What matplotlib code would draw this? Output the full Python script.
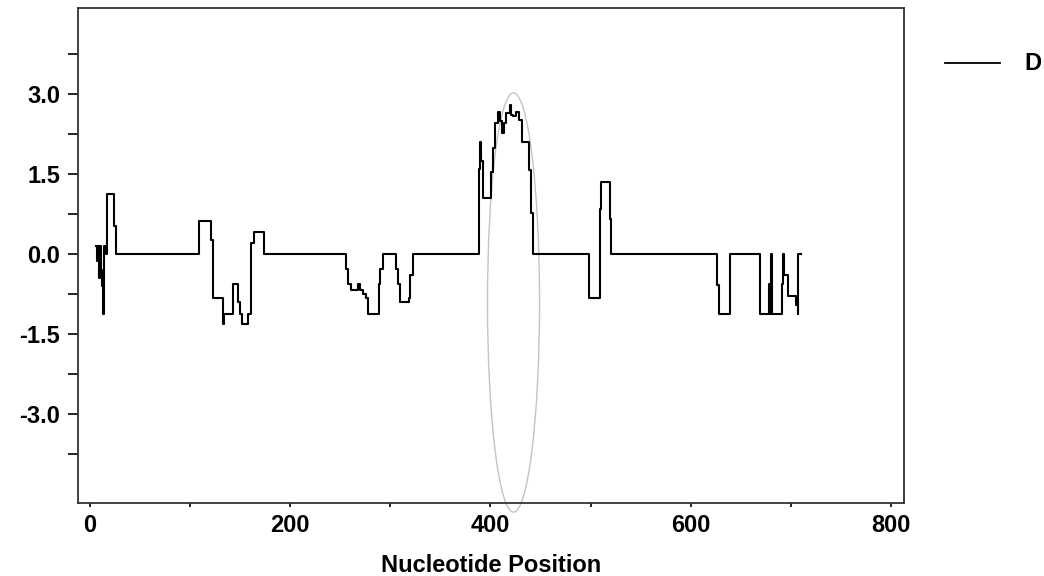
import numpy as np
import matplotlib
matplotlib.use('Agg')
import matplotlib.pyplot as plt
from matplotlib.lines import Line2D
from matplotlib.patches import Ellipse
from matplotlib.ticker import FixedLocator, MultipleLocator, FormatStrFormatter

# step profile: value holds from position[i] until position[i + 1]
position = [5.7, 7.3, 8.3, 9.3, 10.3, 11.3, 12.3, 13.3, 14.3, 15.5, 16.7, 24.3, 26,
            109.3, 120.7, 122.7, 132.7, 133.3, 134.3, 143.3, 147.7, 150, 151.7, 158.3, 161, 163.3, 174,
            256, 257.7, 261, 267.7, 270, 272.7, 276, 278, 288.3, 290, 292.3, 305.7, 307.7, 310,
            318.3, 320, 322.3,
            388.3, 390, 391, 392.3, 401, 402.3, 404.3, 407.7, 409, 411.7, 413.3, 415.7, 419, 420,
            422.3, 425.7, 428.3, 431.7, 438.3, 440.7, 442.7,
            498.3, 509, 510.3, 519, 520.7,
            626, 628.3, 639, 668.7, 678.3, 679.3, 680, 680.7, 690.7, 691.7, 693, 696.7, 705, 706.7,
            707.5, 710]
value = [0.15, -0.14, 0.15, -0.45, 0.15, -0.3, -0.6, -1.125, 0.15, 0.0, 1.125, 0.53, 0.0,
         0.61, 0.26, -0.83, -1.125, -1.31, -1.125, -0.56, -0.9, -1.125, -1.31, -1.125, 0.2, 0.41, 0.0,
         -0.28, -0.56, -0.68, -0.56, -0.68, -0.75, -0.83, -1.125, -0.56, -0.28, 0.0, -0.28, -0.56, -0.9,
         -0.83, -0.4, 0.0,
         1.59, 2.1, 1.75, 1.04, 1.53, 1.98, 2.45, 2.67, 2.5, 2.26, 2.45, 2.64, 2.79, 2.6,
         2.58, 2.67, 2.51, 2.1, 1.58, 0.76, 0.0,
         -0.83, 0.84, 1.34, 0.65, 0.0,
         -0.58, -1.125, 0.0, -1.125, -0.56, -1.125, 0.0, -1.125, -0.56, 0.0, -0.4, -0.78, -0.95, -1.125,
         0.0, 0.0]

series_label = 'D'
x_label = 'Nucleotide Position'
y_ticks = [-3.0, -1.5, 0.0, 1.5, 3.0]
y_minor_ticks = [-3.75, -2.25, -0.75, 0.75, 2.25, 3.75]

# highlighted region (ellipse around the peak)
peak_center = (423, -0.91)
peak_width = 52
peak_height = 7.86


def plot_profile():
    """
    Step plot of the profile with the peak region circled.
    """
    plt.rcParams['font.family'] = ['Liberation Sans', 'DejaVu Sans']
    plt.rcParams['font.weight'] = 'bold'

    fig = plt.figure(figsize=(10.44, 5.76), dpi=100)
    ax = fig.add_axes([0.0747, 0.1267, 0.7912, 0.8593])

    ax.plot(position, value, drawstyle='steps-post', color='black', lw=1.5)

    ax.add_patch(Ellipse(peak_center, peak_width, peak_height, fill=False,
                         edgecolor='#c4c4c4', lw=1.0, clip_on=False))

    ax.set_xlim(-12, 813)
    ax.set_ylim(-4.67, 4.61)

    ax.xaxis.set_major_locator(MultipleLocator(200))
    ax.xaxis.set_minor_locator(MultipleLocator(100))
    ax.yaxis.set_major_locator(FixedLocator(y_ticks))
    ax.yaxis.set_minor_locator(FixedLocator(y_minor_ticks))
    ax.yaxis.set_major_formatter(FormatStrFormatter('%.1f'))

    ax.tick_params(axis='x', which='both', direction='out', length=3, width=1.2, labelsize=17, pad=5)
    ax.tick_params(axis='y', which='both', direction='out', length=7, width=1.2, labelsize=17, pad=6)
    for lab in ax.get_xticklabels() + ax.get_yticklabels():
        lab.set_fontweight('bold')

    for spine in ax.spines.values():
        spine.set_linewidth(1.3)
        spine.set_color('#333333')

    ax.set_xlabel(x_label, fontsize=17, fontweight='bold', labelpad=12)

    # legend drawn by hand in figure pixels
    fig.add_artist(Line2D([945 / 1044, 1000 / 1044], [1 - 63 / 576, 1 - 63 / 576],
                          color='black', lw=1.3, transform=fig.transFigure))
    fig.text(1024 / 1044, 1 - 63 / 576, series_label, fontsize=17, fontweight='bold',
             ha='left', va='center')

    fig.savefig('out.png', dpi=100)


plot_profile()
